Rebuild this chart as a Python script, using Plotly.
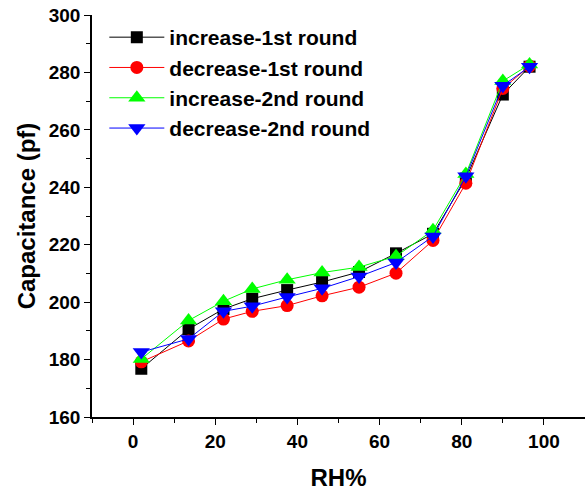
import plotly.graph_objects as go

rh = [2, 13.5, 22, 29, 37.5, 46, 55, 64, 73, 81, 90, 96.5]
inc1 = [176.8, 190.6, 197.6, 201.2, 204.2, 207.0, 210.5, 217.0, 223.8, 243.0, 272.3, 282.0]
dec1 = [179.2, 186.5, 194.1, 196.8, 198.8, 202.2, 205.2, 210.1, 221.5, 241.4, 274.4, 282.2]
inc2 = [180.2, 193.6, 200.3, 204.6, 207.8, 210.3, 212.2, 216.0, 225.0, 244.6, 277.0, 282.8]
dec2 = [182.6, 187.2, 196.8, 198.6, 201.8, 204.8, 208.9, 213.8, 222.9, 243.8, 275.4, 282.0]

names = ["increase-1st round", "decrease-1st round", "increase-2nd round", "decrease-2nd round"]
colors = ["#000000", "#ff0000", "#00ff00", "#0000ff"]
symbols = ["square", "circle", "triangle-up", "triangle-down"]
sizes = [12, 13, 15, 15]
series = [inc1, dec1, inc2, dec2]

FONT = "Arial, 'Liberation Sans', sans-serif"

fig = go.Figure()
for name, ys, c, s, sz in zip(names, series, colors, symbols, sizes):
    fig.add_trace(go.Scatter(
        x=rh, y=ys, name=name, mode="lines+markers",
        line=dict(color=c, width=1),
        marker=dict(color=c, symbol=s, size=sz, line=dict(width=0)),
    ))

axis_common = dict(
    showgrid=False, zeroline=False, showline=True, linecolor="black", linewidth=1.5,
    ticks="outside", ticklen=6, tickwidth=1.2, tickcolor="black",
    tickfont=dict(family=FONT, size=19, color="black", weight="bold"),
    minor=dict(ticks="outside", ticklen=4, tickwidth=1, tickcolor="black"),
)

fig.update_layout(
    width=585, height=494,
    margin=dict(l=92, r=0, t=15, b=77),
    plot_bgcolor="white", paper_bgcolor="white",
    showlegend=True,
    legend=dict(
        x=0.025, y=0.995, xanchor="left", yanchor="top",
        font=dict(family=FONT, size=21, color="black", weight="bold"),
        itemwidth=55, tracegroupgap=0, bgcolor="rgba(0,0,0,0)",
    ),
    xaxis=dict(range=[-10, 110], dtick=20, tick0=0,
               title=dict(text="RH%", font=dict(family=FONT, size=24, color="black", weight="bold"), standoff=19),
               **axis_common),
    yaxis=dict(range=[160, 300], dtick=20, tick0=160,
               title=dict(text="Capacitance (pf)", font=dict(family=FONT, size=24, color="black", weight="bold"), standoff=6),
               **axis_common),
)
fig.update_xaxes(minor=dict(dtick=10))
fig.update_yaxes(minor=dict(dtick=10))

fig.write_html("out.html")
